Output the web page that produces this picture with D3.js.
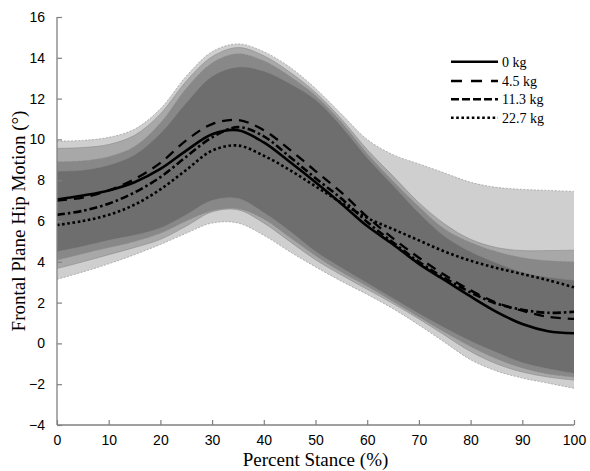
<!DOCTYPE html>
<html><head><meta charset="utf-8">
<script src="https://cdn.jsdelivr.net/npm/d3@7"></script>
<style>html,body{margin:0;padding:0;background:#fff;}</style>
</head><body>
<svg id="chart" width="590" height="471"></svg>
<script>
const pct = [0,5,10,15,20,25,30,35,40,45,50,55,60,65,70,75,80,85,90,95,100];

// mean curves
const kg0   = [7.05,7.25,7.5,7.9,8.55,9.45,10.25,10.45,9.85,8.9,7.9,6.85,5.75,4.85,3.9,3.1,2.3,1.55,0.95,0.6,0.5];
const kg4_5 = [7.0,7.15,7.5,8.05,8.85,9.95,10.75,10.95,10.45,9.5,8.45,7.4,6.2,5.15,4.2,3.35,2.6,2.0,1.6,1.3,1.2];
const kg11_3= [6.3,6.5,6.85,7.4,8.15,9.15,10.1,10.6,10.15,9.15,8.1,7.1,5.95,4.95,4.0,3.2,2.5,1.95,1.65,1.5,1.55];
const kg22_7= [5.8,6.0,6.3,6.8,7.55,8.5,9.45,9.7,9.2,8.5,7.7,6.9,6.15,5.6,5.05,4.5,4.05,3.7,3.4,3.1,2.75];

// shaded ±SD bands (upper / lower edges)
const bandAUpper = [9.92,9.95,10.1,10.5,11.5,13.1,14.3,14.68,14.3,13.55,12.5,11.25,10.0,9.25,8.8,8.35,7.9,7.65,7.55,7.5,7.45];
const bandALower = [3.14,3.5,3.9,4.35,4.85,5.4,5.9,5.9,5.3,4.5,3.75,3.05,2.4,1.7,0.9,0.05,-0.8,-1.35,-1.7,-1.95,-2.2];
const bandBUpper = [9.56,9.6,9.75,10.2,11.25,12.85,14.05,14.5,14.1,13.3,12.3,11.0,9.5,8.2,6.9,5.85,5.1,4.7,4.55,4.55,4.57];
const bandBLower = [3.67,4.0,4.35,4.7,5.1,5.75,6.45,6.55,5.9,5.0,4.1,3.35,2.65,1.95,1.2,0.4,-0.4,-1.0,-1.4,-1.65,-1.8];
const bandCUpper = [8.9,8.95,9.15,9.65,10.8,12.5,13.75,14.2,13.85,13.1,12.15,10.85,9.3,7.95,6.7,5.6,4.95,4.5,4.2,4.05,4.0];
const bandCLower = [4.08,4.4,4.7,5.0,5.4,6.0,6.5,6.6,6.1,5.2,4.3,3.5,2.8,2.05,1.3,0.55,-0.15,-0.75,-1.2,-1.5,-1.65];
const bandDUpper = [8.45,8.5,8.75,9.25,10.3,11.8,13.1,13.55,13.35,12.75,11.95,10.65,9.1,7.75,6.4,5.25,4.5,3.95,3.5,3.25,3.1];
const bandDLower = [4.49,4.75,5.05,5.3,5.65,6.3,7.0,7.1,6.4,5.5,4.5,3.7,2.95,2.2,1.45,0.75,0.1,-0.45,-0.95,-1.25,-1.47];

const xTicks = [0,10,20,30,40,50,60,70,80,90,100];
const yTicks = [-4,-2,0,2,4,6,8,10,12,14,16];
const legendLabels = ["0 kg","4.5 kg","11.3 kg","22.7 kg"];

const svg = d3.select("#chart");
const x = d3.scaleLinear().domain([0,100]).range([57,574]);
const y = d3.scaleLinear().domain([-4,16]).range([425,17]);

const curve = d3.curveCatmullRom.alpha(0.5);
const bands = [
  {u:bandAUpper,l:bandALower,dash:"2,1.5"},
  {u:bandBUpper,l:bandBLower,dash:null},
  {u:bandCUpper,l:bandCLower,dash:"2,1.5"},
  {u:bandDUpper,l:bandDLower,dash:null}
];
const area = d3.area().x((d,i)=>x(pct[i])).y0(d=>y(d[1])).y1(d=>y(d[0])).curve(curve);
const edge = d3.line().x((d,i)=>x(pct[i])).y(d=>y(d)).curve(curve);
bands.forEach(b=>{
  const data = b.u.map((v,i)=>[v,b.l[i]]);
  svg.append("path").attr("d",area(data)).attr("fill","#000").attr("fill-opacity",0.19);
});
bands.forEach(b=>{
  [b.u,b.l].forEach(arr=>{
    svg.append("path").attr("d",edge(arr)).attr("fill","none")
      .attr("stroke","#8a8a8a").attr("stroke-width",0.6)
      .attr("stroke-dasharray",b.dash);
  });
});

const series = [
  {v:kg0, dash:null, w:2.6},
  {v:kg4_5, dash:"10,7", w:2.3},
  {v:kg11_3, dash:"8,3,2.5,3", w:2.6},
  {v:kg22_7, dash:"2.6,2.6", w:2.6}
];
series.forEach(s=>{
  svg.append("path").attr("d",edge(s.v)).attr("fill","none")
    .attr("stroke","#000").attr("stroke-width",s.w)
    .attr("stroke-dasharray",s.dash);
});

// axes
const axisColor = "#808080";
const gx = svg.append("g").attr("transform","translate(0,425)")
  .call(d3.axisBottom(x).tickValues(xTicks).tickSizeInner(-5).tickSizeOuter(0).tickPadding(10));
const gy = svg.append("g").attr("transform","translate(57,0)")
  .call(d3.axisLeft(y).tickValues(yTicks).tickSizeInner(-5).tickSizeOuter(0).tickPadding(12));
[gx,gy].forEach(g=>{
  g.select(".domain").attr("stroke",axisColor).attr("stroke-width",1.3);
  g.selectAll(".tick line").attr("stroke",axisColor).attr("stroke-width",1.2);
  g.selectAll(".tick text").attr("fill","#000").style("font-family","'Liberation Sans',Arial,sans-serif").style("font-size","14px");
});
gx.select(".domain").attr("d","M57,0H574");
gy.select(".domain").attr("d","M0,17V425");

svg.append("text").attr("x",315.5).attr("y",466).attr("text-anchor","middle")
  .style("font-family","'Liberation Serif','Times New Roman',serif").style("font-size","19px")
  .text("Percent Stance (%)");
svg.append("text").attr("transform","translate(25,221) rotate(-90)").attr("text-anchor","middle")
  .style("font-family","'Liberation Serif','Times New Roman',serif").style("font-size","19px")
  .text("Frontal Plane Hip Motion (°)");

// legend
const legY = [61.7,81,99.3,117.7];
legendLabels.forEach((lab,i)=>{
  svg.append("line").attr("x1",451).attr("x2",498).attr("y1",legY[i]).attr("y2",legY[i])
    .attr("stroke","#000").attr("stroke-width",series[i].w)
    .attr("stroke-dasharray",i===1?"11,9":(i===2?"8,3":series[i].dash));
  svg.append("text").attr("x",502).attr("y",legY[i]+5)
    .style("font-family","'Liberation Serif','Times New Roman',serif").style("font-size","14px")
    .text(lab);
});
</script>
</body></html>
